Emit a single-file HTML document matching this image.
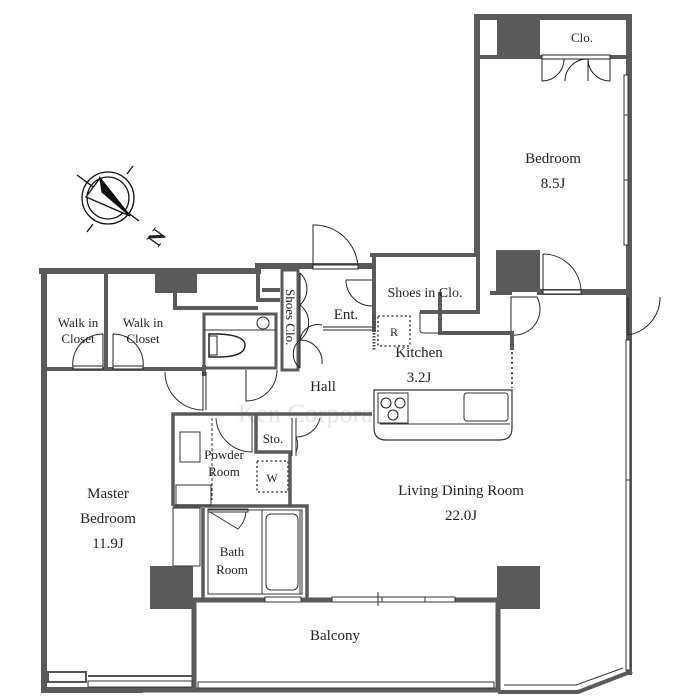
<!DOCTYPE html>
<html><head><meta charset="utf-8"><style>
html,body{margin:0;padding:0;background:#fff;}
svg{display:block;}
text{font-family:"Liberation Serif",serif;fill:#222;}
</style></head><body>
<svg width="700" height="700" viewBox="0 0 700 700" xmlns="http://www.w3.org/2000/svg">
<rect width="700" height="700" fill="#fff"/>
<!-- watermark -->
<text x="350" y="422" font-size="26" text-anchor="middle" fill="#e4e4e4" style="fill:#e6e6e6">Ken Corporation Ltd.</text>

<g stroke="#5a5a5a" stroke-width="6" fill="none" stroke-linecap="square">
  <!-- bedroom top -->
  <path d="M477,17 H629 V292"/>
  <path d="M477,17 V252"/>
  <path d="M480,57 H626" stroke-width="4"/>
  <!-- bedroom bottom -->
  <path d="M540,292 H629"/>
  <!-- right wall LDR -->
  <path d="M629,292 V672"/>
  <!-- top-left -->
  <path d="M42,271 H258 V266 H372"/>
  <path d="M372,255 H478" stroke-width="4"/>
  <path d="M374,255 V330" stroke-width="4"/>
  <!-- left wall -->
  <path d="M44,271 V690 H140"/>
</g>
<!-- window right wall -->
<g stroke="#333" stroke-width="1" fill="#fff">
  <rect x="624" y="75" width="4" height="170"/>
  <line x1="624" y1="115" x2="628" y2="115"/><line x1="624" y1="180" x2="628" y2="180"/>
  <rect x="626" y="340" width="4" height="330"/>
  <line x1="626" y1="480" x2="630" y2="480"/>
</g>
<!-- bottom right diagonal -->
<path d="M629,670 L630,672 L578,692 H498" stroke="#5a5a5a" stroke-width="4" fill="none"/>
<path d="M623,668 L576,685 H504" stroke="#333" stroke-width="1" fill="none"/>
<!-- balcony -->
<g stroke="#5a5a5a" stroke-width="5" fill="none">
  <path d="M194,598 V690"/>
  <path d="M498,598 V690"/>
  <path d="M190,600 H500"/>
  <path d="M42,690 H198"/>
  <path d="M194,690 H500"/>
</g>
<rect x="198" y="682" width="296" height="6" fill="#fff" stroke="#333" stroke-width="1"/>
<rect x="88" y="681" width="104" height="6" fill="#fff" stroke="#333" stroke-width="1"/>
<rect x="48" y="672" width="38" height="10" fill="#fff" stroke="#555" stroke-width="2"/>
<line x1="88" y1="676" x2="192" y2="676" stroke="#555" stroke-width="2"/>
<g stroke="#333" stroke-width="1" fill="#fff">
  <rect x="265" y="597" width="36" height="5"/>
  <rect x="332" y="597" width="50" height="5"/>
  <rect x="382" y="597" width="50" height="5"/>
  <rect x="425" y="597" width="30" height="5"/>
  <line x1="378" y1="592" x2="378" y2="606"/>
</g>
<!-- pillars -->
<g fill="#5a5a5a">
  <rect x="497" y="17" width="43" height="40"/>
  <rect x="496" y="250" width="44" height="42"/>
  <rect x="155" y="271" width="42" height="22"/>
  <rect x="150" y="566" width="43" height="43"/>
  <rect x="497" y="566" width="43" height="43"/>
</g>
<rect x="480" y="20" width="15" height="35" fill="#fff"/>
<!-- bedroom closet doors -->
<g stroke="#222" stroke-width="1" fill="none">
  <rect x="542" y="55" width="68" height="4" fill="#fff"/>
  <path d="M542,81 V59 M542,81 A22,22 0 0 0 564,59"/>
  <path d="M587,59 A22,22 0 0 0 565,81"/>
  <path d="M588,81 V59 A22,22 0 0 0 610,81 M610,59 V81"/>
  <!-- bedroom door -->
  <path d="M543,254 V292 M543,254 A38,38 0 0 1 581,292"/>
  <rect x="543" y="290" width="38" height="4" fill="#fff"/>
  <!-- right door -->
  <path d="M628,297 V335 A38,38 0 0 0 660,297"/>
  <!-- kitchen right door -->
  <path d="M511,297 V335 A26,26 0 0 0 537,297 Z"/>
</g>
<!-- kitchen partitions -->
<g stroke="#5a5a5a" stroke-width="4" fill="none">
  <path d="M478,255 V312 H420"/>
  <path d="M440,292 V333 H512 V350"/>
  <path d="M490,293 H512"/>
</g>
<path d="M420,312 V330 Q420,333 424,333 H440" stroke="#333" stroke-width="1" fill="none"/>
<line x1="512" y1="352" x2="512" y2="388" stroke="#555" stroke-width="2" stroke-dasharray="2,3"/>
<!-- R dotted -->
<rect x="378" y="316" width="32" height="30" fill="none" stroke="#444" stroke-width="1.5" stroke-dasharray="2,2.5"/>
<text x="394" y="336" font-size="12" text-anchor="middle">R</text>
<line x1="374" y1="315" x2="374" y2="350" stroke="#444" stroke-width="3" stroke-dasharray="1.5,1.5"/>
<!-- counter -->
<path d="M374,390 H512 V428 Q512,440 500,440 H386 Q374,440 374,428 Z" fill="#fff" stroke="#333" stroke-width="1.2"/>
<line x1="380" y1="424" x2="510" y2="424" stroke="#333" stroke-width="1"/>
<rect x="378" y="393" width="30" height="30" fill="none" stroke="#333"/>
<circle cx="386" cy="403" r="5" fill="none" stroke="#222"/><circle cx="400" cy="403" r="5" fill="none" stroke="#222"/><circle cx="393" cy="415" r="5" fill="none" stroke="#222"/>
<rect x="464" y="393" width="44" height="28" rx="3" fill="none" stroke="#333"/>

<!-- entrance -->
<g stroke="#5a5a5a" stroke-width="4" fill="none">
  <path d="M258,266 V300 H280"/>
  <path d="M262,290 H280"/>
  <path d="M175,293 V308 H258"/>
</g>
<g stroke="#222" stroke-width="1" fill="none">
  <path d="M313,268 V225 A44,44 0 0 1 358,268"/>
  <rect x="313" y="265" width="45" height="4" fill="#fff"/>
  <path d="M372,280 H346 A26,26 0 0 0 372,306"/>
  <line x1="323" y1="327" x2="372" y2="327"/>
  <line x1="323" y1="330" x2="372" y2="330"/>
</g>
<!-- shoes clo -->
<rect x="282" y="270" width="16" height="100" fill="#fff" stroke="#5a5a5a" stroke-width="3"/>
<text transform="translate(286,289) rotate(90)" font-size="13">Shoes Clo.</text>
<g stroke="#222" stroke-width="1" fill="none">
  <line x1="300" y1="273" x2="300" y2="368"/>
  <path d="M300,273 A22,22 0 0 1 300,305"/>
  <path d="M300,305 A22,22 0 0 1 300,340 A18,18 0 0 1 322,325"/>
  <path d="M300,340 A22,22 0 0 1 322,364 M300,340 A18,18 0 0 0 300,368"/>
</g>
<!-- toilet -->
<rect x="204" y="314" width="72" height="54" fill="none" stroke="#5a5a5a" stroke-width="3"/>
<line x1="204" y1="330" x2="276" y2="330" stroke="#333"/>
<circle cx="263" cy="323" r="6" fill="#fff" stroke="#222"/>
<path d="M209,334 H218 Q245,335 245,345 Q245,357 218,357 H209 Z" fill="#fff" stroke="#222" stroke-width="1.5"/>
<path d="M209,336 H217 V355 H209" fill="none" stroke="#222"/>
<!-- walk in closets -->
<g stroke="#5a5a5a" stroke-width="4" fill="none">
  <path d="M106,271 V370"/>
  <path d="M42,369 H205"/>
  <path d="M204,365 V376"/>
</g>
<g stroke="#222" stroke-width="1" fill="none">
  <path d="M103,334 V368 M103,334 A30,30 0 0 0 73,368"/>
  <rect x="73" y="366" width="30" height="3" fill="#fff"/>
  <path d="M113,334 V368 M113,334 A30,30 0 0 1 143,368"/>
  <rect x="113" y="366" width="30" height="3" fill="#fff"/>
  <!-- master door -->
  <path d="M203,372 V410 A38,38 0 0 1 165,372"/>
  <line x1="206" y1="372" x2="206" y2="410"/>
  <!-- toilet door -->
  <path d="M246,370 V401 A31,31 0 0 0 277,370"/>
</g>
<!-- powder/bath -->
<g stroke="#5a5a5a" stroke-width="3.5" fill="none">
  <path d="M173,506 V414 H372"/>
  <path d="M256,414 V452 H290 V506"/>
  <path d="M173,506 H307 V598"/>
  <path d="M203,508 V598"/>
</g>
<line x1="212" y1="418" x2="212" y2="500" stroke="#333" stroke-dasharray="3,2"/>
<g stroke="#333" stroke-width="1" fill="none">
  <rect x="180" y="432" width="20" height="30"/>
  <rect x="176" y="485" width="35" height="20"/>
  <rect x="173" y="508" width="27" height="58"/>
  <path d="M216,418 A36,36 0 0 0 252,452 V416"/>
  <rect x="208" y="509" width="40" height="3" fill="#fff"/>
  <path d="M210,512 L238,529 A28,28 0 0 0 246,512"/>
  <rect x="208" y="510" width="92" height="84"/>
  <rect x="262" y="510" width="40" height="84"/>
  <rect x="266" y="514" width="32" height="76" rx="5"/>
  <path d="M292,418 V456 M296,418 V456 M296,437 A24,24 0 0 0 320,418 M296,437 A18,18 0 0 1 296,452"/>
</g>
<rect x="257" y="461" width="31" height="31" fill="none" stroke="#444" stroke-width="1.5" stroke-dasharray="2,2.5"/>
<text x="272" y="482" font-size="12" text-anchor="middle">W</text>

<!-- compass -->
<g stroke="#111" fill="none" stroke-width="1.3">
  <circle cx="108" cy="198" r="26"/>
  <circle cx="108" cy="198" r="21"/>
  <line x1="77" y1="175" x2="139" y2="221"/>
  <line x1="87" y1="232" x2="93" y2="224"/>
  <line x1="133" y1="166" x2="127" y2="174"/>
  <path d="M100,178 L130,216 L86,197 Z" fill="#fff"/>
  <path d="M100,178 L130,216 L102,192 Z" fill="#111"/>
</g>
<text transform="translate(158,248) rotate(-55)" font-size="22" font-weight="bold">N</text>

<!-- labels -->
<g font-size="15" text-anchor="middle">
  <text x="582" y="42" font-size="13">Clo.</text>
  <text x="553" y="163">Bedroom</text>
  <text x="553" y="188">8.5J</text>
  <text x="425" y="297" font-size="14">Shoes in Clo.</text>
  <text x="346" y="319">Ent.</text>
  <text x="419" y="357">Kitchen</text>
  <text x="419" y="382">3.2J</text>
  <text x="78" y="327" font-size="13">Walk in</text>
  <text x="78" y="343" font-size="13">Closet</text>
  <text x="143" y="327" font-size="13">Walk in</text>
  <text x="143" y="343" font-size="13">Closet</text>
  <text x="323" y="391">Hall</text>
  <text x="273" y="443" font-size="13">Sto.</text>
  <text x="224" y="459" font-size="13">Powder</text>
  <text x="224" y="476" font-size="13">Room</text>
  <text x="108" y="498">Master</text>
  <text x="108" y="523">Bedroom</text>
  <text x="108" y="548">11.9J</text>
  <text x="232" y="556" font-size="13">Bath</text>
  <text x="232" y="574" font-size="13">Room</text>
  <text x="461" y="495">Living Dining Room</text>
  <text x="461" y="520">22.0J</text>
  <text x="335" y="640">Balcony</text>
</g>
</svg>
</body></html>
